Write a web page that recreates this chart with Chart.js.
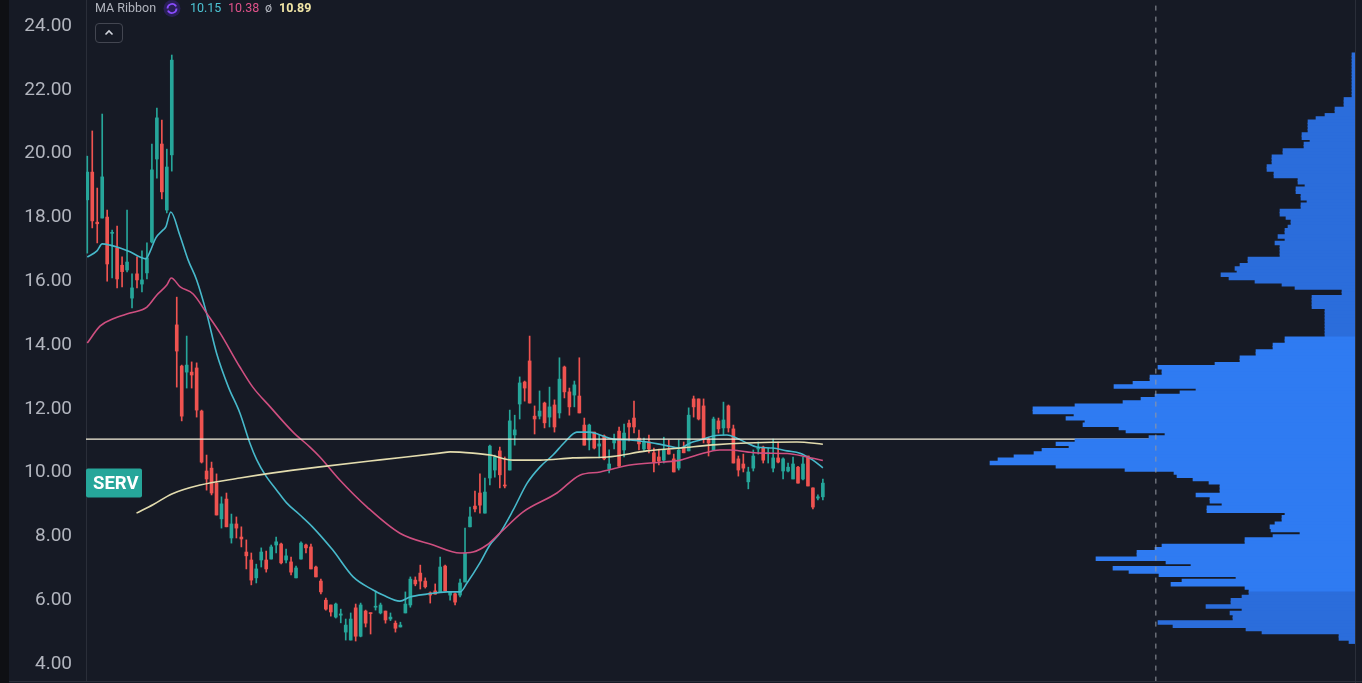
<!DOCTYPE html>
<html>
<head>
<meta charset="utf-8">
<title>SERV</title>
<script src="https://cdn.jsdelivr.net/npm/chart.js@4.4.1/dist/chart.umd.min.js"></script>
<style>
  html, body { margin:0; padding:0; background:#161a25; overflow:hidden; }
  #wrap { position:relative; width:1362px; height:683px; font-family: Roboto, "Noto Sans", sans-serif; }
  #c { position:absolute; left:0; top:0; }
  #strip { position:absolute; left:0; top:0; width:9px; height:683px; background:#0f1014; }
  #bottomLine { position:absolute; left:9px; top:681px; width:1353px; height:1px; background:#2a2e39; }
  #rightLine { position:absolute; left:1355px; top:0; width:1px; height:683px; background:#2a2e39; }
  .lg { position:absolute; top:0; font-size:12.5px; line-height:16px; white-space:nowrap; }
  #btn { position:absolute; left:95px; top:23px; width:26px; height:18px; border:1px solid #434651; border-radius:4px; box-sizing:content-box; }
</style>
</head>
<body>
<div id="wrap">
  <canvas id="c" width="1362" height="683"></canvas>
  <div id="strip"></div>
  <div id="bottomLine"></div>
  <div id="rightLine"></div>
  <span class="lg" style="left:95px;color:#b2b5be">MA Ribbon</span>
  <svg class="lg" style="left:163px;top:0" width="18" height="17" viewBox="0 0 18 17">
    <circle cx="9" cy="8.5" r="8.5" fill="#2a1f58"/>
    <path d="M4.5 8.5 A4.5 4.5 0 0 1 12.6 5.8" stroke="#8a4dff" stroke-width="1.8" fill="none"/>
    <path d="M13.5 8.5 A4.5 4.5 0 0 1 5.4 11.2" stroke="#8a4dff" stroke-width="1.8" fill="none"/>
    <path d="M11 4.2 L13.6 5 L13 7.6 Z" fill="#8a4dff"/>
    <path d="M7 12.8 L4.4 12 L5 9.4 Z" fill="#8a4dff"/>
  </svg>
  <span class="lg" style="left:190px;color:#4cc3d3">10.15</span>
  <span class="lg" style="left:228px;color:#e0528a">10.38</span>
  <span class="lg" style="left:265px;color:#b2b5be">ø</span>
  <span class="lg" style="left:279px;color:#f2e6a6;font-weight:bold">10.89</span>
  <div id="btn">
    <svg width="26" height="18" viewBox="0 0 26 18"><polyline points="9.5,10.5 13,7 16.5,10.5" stroke="#d1d4dc" stroke-width="1.6" fill="none"/></svg>
  </div>
</div>
<script>
// candles (daily)
const opens = [18.55,19.42,17.85,17.98,18.01,17.5,17.04,16.5,16.35,15.47,16.23,15.91,16.26,17.23,19.83,20.3,18.23,19.96,
  14.63,13.34,13.15,13.15,13.28,11.93,10.05,10.14,9.67,8.55,9.17,7.95,8.39,7.98,7.51,7.26,6.7,7.26,7.26,7.29,7.73,7.76,
  7.26,7.2,6.7,7.29,7.73,7.67,7.04,6.6,6.0,5.85,5.47,5.53,5.0,4.75,5.76,4.87,5.66,5.6,5.78,5.6,
  5.66,5.41,5.28,5.16,5.6,5.85,6.63,6.85,6.6,6.23,6.29,6.26,7.07,6.16,6.2,6.16,6.57,8.3,8.95,9.36,
  8.73,9.83,10.08,10.68,9.6,10.08,11.18,12.15,12.84,13.5,11.77,11.77,12.18,11.74,12.12,11.87,13.31,12.53,12.43,12.4,
  11.49,11.02,11.27,10.83,11.15,10.11,10.93,11.3,10.71,11.55,11.71,11.08,10.74,10.96,10.62,10.49,10.39,10.71,10.43,10.14,
  10.77,10.68,12.31,12.31,12.09,11.05,10.71,11.62,11.4,12.09,11.37,10.43,10.27,9.71,10.14,10.74,10.8,10.59,10.14,10.46,
  10.05,10.05,9.8,10.17,9.8,10.52,9.52,9.2,9.24];
const highs = [19.92,20.71,18.92,21.24,18.23,17.6,17.73,16.76,18.23,16.23,16.76,16.95,17.2,20.3,21.43,21.05,20.14,23.09,
  15.5,13.37,14.28,13.47,13.44,11.96,10.55,10.33,9.96,9.24,9.36,8.7,8.61,8.3,7.89,7.48,7.13,7.64,7.54,7.73,7.98,7.79,
  7.6,7.35,7.07,7.83,7.76,7.76,7.07,6.66,6.07,5.85,5.91,5.72,5.41,5.6,5.88,5.91,5.69,5.6,6.29,5.91,
  5.66,5.6,5.35,5.31,6.26,6.73,6.73,7.1,6.7,6.26,6.51,7.35,7.1,6.26,6.23,6.66,8.26,8.92,9.42,9.96,
  9.83,10.86,10.55,10.8,10.49,11.96,11.8,13.0,12.87,14.28,12.09,12.56,12.21,12.68,12.28,13.6,13.34,12.65,12.87,13.6,
  11.71,11.52,11.27,11.18,11.18,10.71,11.21,11.43,11.52,11.65,12.24,11.33,11.08,11.18,10.77,10.74,11.11,11.02,10.58,11.02,
  10.96,12.03,12.4,12.31,12.31,11.11,11.74,11.71,12.21,12.12,11.49,10.52,10.58,10.17,10.71,10.96,10.83,10.77,11.05,10.96,
  10.46,10.3,10.49,10.2,10.49,10.52,9.52,9.3,9.8];
const lows = [16.88,17.67,17.2,17.98,16.0,16.1,15.79,15.82,16.29,15.16,15.79,15.66,16.07,17.2,19.23,18.58,18.14,19.45,
  12.68,11.62,12.65,12.65,11.74,10.3,9.45,9.3,8.67,8.26,8.3,7.79,7.95,7.67,6.98,6.48,6.54,7.04,6.88,7.29,7.48,7.14,
  7.17,6.79,6.7,7.29,7.48,6.98,6.73,6.2,5.69,5.5,5.44,5.29,4.75,4.75,4.72,4.85,5.16,4.94,5.69,5.57,
  5.28,5.36,5.0,5.16,5.6,5.78,6.45,6.35,6.38,5.91,6.19,6.26,6.29,6.0,5.85,6.1,6.57,8.3,8.77,8.73,
  8.73,9.61,9.86,9.52,9.52,10.08,10.86,11.68,12.24,12.18,11.21,11.68,11.4,11.43,11.27,11.71,12.34,11.8,12.06,11.87,
  10.86,10.71,10.74,10.46,10.4,9.99,10.74,10.17,10.49,10.99,11.24,10.71,10.68,10.62,10.02,10.24,10.3,10.58,10.02,10.08,
  10.62,10.68,11.74,11.65,10.93,10.52,10.71,11.24,11.18,11.27,10.3,9.89,10.02,9.49,10.05,10.58,10.3,10.3,10.02,10.3,
  9.8,10.02,9.8,9.67,9.77,9.58,8.86,9.14,9.14];
const closes = [19.42,17.89,17.8,19.27,16.54,17.52,16.07,16.3,16.6,15.79,16.04,16.04,16.73,19.49,21.12,18.8,19.58,22.93,
  13.81,11.77,13.37,13.06,11.96,10.33,9.8,9.36,8.67,9.02,8.3,8.39,8.26,7.92,7.39,6.63,6.98,7.51,6.98,7.67,7.83,7.17,
  7.39,6.88,7.01,7.79,7.64,6.98,6.73,6.26,5.72,5.63,5.88,5.57,5.22,5.41,4.87,5.85,5.28,5.58,5.81,5.85,
  5.38,5.47,5.12,5.22,5.88,6.66,6.51,6.6,6.42,6.16,6.19,7.04,6.29,6.26,5.94,6.54,7.48,8.61,8.86,8.98,
  9.39,10.83,10.49,9.93,9.58,11.62,11.34,12.81,12.65,12.18,11.68,11.93,11.56,12.06,11.43,12.93,12.53,12.06,12.75,11.87,
  10.86,11.49,10.77,10.9,10.43,10.27,11.02,10.2,11.24,11.43,11.43,10.9,10.96,10.74,10.33,10.36,10.71,10.58,10.02,10.71,
  10.62,11.8,12.06,11.68,11.05,10.93,11.68,11.37,11.65,11.4,10.3,10.08,10.14,10.02,10.52,10.77,10.39,10.62,10.46,10.33,
  10.43,10.17,10.27,9.67,10.27,9.58,8.92,9.24,9.67];

// MA ribbon, [bar index, value]
const maFast = [[0,16.76],[1.95,16.95],[3,17.17],[4.6,17.13],[6.6,17.04],[8.6,16.92],[10.6,16.76],[11.8,16.7],[12.6,16.92],
  [13.8,17.36],[15.2,17.6],[15.8,17.7],[16.8,18.17],[18.6,17.45],[20.3,16.66],[22,16.04],[24,15.0],[26,13.75],[28.4,12.68],
  [30.7,11.87],[32.7,10.93],[34.1,10.4],[35.8,9.93],[38.1,9.45],[40.1,9.05],[42.8,8.67],[45.3,8.3],[49.4,7.57],[53.5,6.73],
  [57.5,6.32],[59.5,6.16],[62.9,5.97],[64.9,6.1],[68.3,6.19],[72.4,6.26],[75,6.26],[76.4,6.54],[79,7.17],[81,7.73],[83,8.1],
  [85.7,8.83],[88.5,9.67],[91.1,10.18],[93.7,10.55],[96.1,10.96],[98.5,11.27],[101.1,11.27],[103.2,11.18],[105.8,11.05],
  [109.2,11.02],[112.6,10.96],[115.8,10.87],[119.3,10.77],[121.3,10.93],[123.3,11.02],[125.9,11.15],[128.7,11.18],
  [130.7,11.08],[132.7,10.93],[134.7,10.8],[137.9,10.77],[140.8,10.68],[143.4,10.61],[146,10.39],[148,10.15]];
const maMid = [[0,14.06],[2.6,14.6],[5.2,14.82],[8.6,15.0],[12,15.19],[14,15.57],[16,15.88],[16.9,16.1],[18.7,15.82],
  [21.3,15.6],[24,15.0],[26.7,14.38],[30.7,13.31],[33.3,12.68],[36.8,12.06],[41.4,11.27],[44.8,10.8],[46.8,10.49],
  [50.8,9.77],[56.3,8.92],[62.9,8.1],[69.6,7.73],[75,7.48],[77.6,7.51],[80.4,7.73],[83,8.1],[87.7,8.77],[94.5,9.36],
  [99.1,9.92],[103.2,10.02],[109.2,10.24],[115.8,10.33],[119.3,10.39],[122.7,10.55],[127.3,10.71],[129.3,10.71],
  [132.7,10.65],[135.9,10.61],[140.8,10.6],[144.8,10.49],[148,10.38]];
const maSlow = [[9.9,8.73],[13.3,9.0],[17,9.33],[22.7,9.61],[30.7,9.83],[37.4,9.99],[46.8,10.18],[58.9,10.4],[70.9,10.61],
  [73,10.65],[77.6,10.61],[81,10.55],[85.7,10.39],[91.1,10.39],[97.7,10.46],[104.6,10.49],[112.6,10.68],[119.3,10.77],
  [125.9,10.87],[132.7,10.93],[142.8,10.96],[148,10.89]];

const levelLine = 11.05;    // horizontal price line
const sessionMark = 215;     // dashed vertical marker (bar index)

// visible-range volume profile: price rows and relative volume
const profilePrices = [23.1,23.0,22.9,22.8,22.7,22.6,22.5,22.4,22.3,22.2,22.1,22.0,21.9,21.8,21.7,21.6,21.5,21.4,21.3,21.2,
  21.1,21.0,20.9,20.8,20.7,20.6,20.5,20.4,20.3,20.2,20.1,20.0,19.9,19.8,19.7,19.6,19.5,19.4,19.3,19.2,
  19.1,19.0,18.9,18.8,18.7,18.6,18.5,18.4,18.3,18.2,18.1,18.0,17.9,17.8,17.7,17.6,17.5,17.4,17.3,17.2,
  17.1,17.0,16.9,16.8,16.7,16.6,16.5,16.4,16.3,16.2,16.1,16.0,15.9,15.8,15.7,15.6,15.5,15.4,15.3,15.2,
  15.1,15.0,14.9,14.8,14.7,14.6,14.5,14.4,14.3,14.2,14.1,14.0,13.9,13.8,13.7,13.6,13.5,13.4,13.3,13.2,
  13.1,13.0,12.9,12.8,12.7,12.6,12.5,12.4,12.3,12.2,12.1,12.0,11.9,11.8,11.7,11.6,11.5,11.4,11.3,11.2,
  11.1,11.0,10.9,10.8,10.7,10.6,10.5,10.4,10.3,10.2,10.1,10.0,9.9,9.8,9.7,9.6,9.5,9.4,9.3,9.2,
  9.1,9.0,8.9,8.8,8.7,8.6,8.5,8.4,8.3,8.2,8.1,8.0,7.9,7.8,7.7,7.6,7.5,7.4,7.3,7.2,
  7.1,7.0,6.9,6.8,6.7,6.6,6.5,6.4,6.3,6.2,6.1,6.0,5.9,5.8,5.7,5.6,5.5,5.4,5.3,5.2,
  5.1,5.0,4.9,4.8,4.7];
const profileVolume = [3,3,3,3,3,3,3,3,3,3,3,3,3,3,11,11,11,20,20,30,
  39,47,47,47,47,53,53,45,51,51,72,72,83,83,83,88,88,81,81,57,
  57,50,59,59,54,54,48,54,54,75,75,69,64,64,67,70,70,77,70,80,
  75,75,75,75,107,107,115,120,118,134,126,100,73,60,13,13,43,43,43,43,
  30,30,30,30,30,30,30,30,30,70,70,82,82,99,99,115,115,140,197,193,
  193,205,205,222,241,159,175,200,214,232,280,322,322,281,289,270,272,236,229,190,
  206,280,299,286,313,321,341,357,365,299,230,181,178,162,146,135,135,135,159,145,
  145,133,148,148,70,73,73,80,85,84,55,82,110,110,193,200,218,218,259,189,
  164,242,226,196,119,173,184,110,106,106,113,124,124,149,113,125,122,122,197,182,
  109,93,16,16,6];

const UP = '#26a69a', DOWN = '#ef5350';
const candleColor = c => closes[c.dataIndex] >= opens[c.dataIndex] ? UP : DOWN;
const idx = opens.map((_, i) => i);

// ticker tag at the last close
const lastTag = {
  id: 'lastTag',
  afterDatasetsDraw(chart) {
    const {ctx, chartArea, scales} = chart;
    const py = scales.y.getPixelForValue(closes[closes.length - 1]);
    ctx.save();
    ctx.fillStyle = UP;
    ctx.beginPath();
    ctx.roundRect(chartArea.left, py - 14.5, 56, 29, 2);
    ctx.fill();
    ctx.fillStyle = '#ffffff';
    ctx.font = 'bold 18.5px Roboto';
    ctx.textBaseline = 'middle';
    ctx.textAlign = 'left';
    ctx.fillText('SERV', chartArea.left + 7, py + 1);
    ctx.restore();
  }
};

const line = (pts, color, order) => ({
  type: 'line', data: pts.map(p => ({x: p[0], y: p[1]})), borderColor: color, borderWidth: 1.6,
  pointRadius: 0, cubicInterpolationMode: 'monotone', order
});

new Chart(document.getElementById('c'), {
  type: 'bar',
  data: {
    datasets: [
      { type: 'line', data: [{x: sessionMark, y: 0}, {x: sessionMark, y: 30}], borderColor: '#9598a1',
        borderWidth: 1, borderDash: [5, 6], pointRadius: 0, order: 0 },
      { type: 'bar', indexAxis: 'y', xAxisID: 'xv', yAxisID: 'y', order: 1, grouped: false, barThickness: 3.8,
        data: profilePrices.map((p, i) => ({y: p, x: profileVolume[i]})),
        backgroundColor: c => (profilePrices[c.dataIndex] > 14.25 || profilePrices[c.dataIndex] < 6.25) ? '#2b6ddb' : '#2f7bf2' },
      { type: 'line', data: [{x: -5, y: levelLine}, {x: 300, y: levelLine}], borderColor: '#f7f2dc',
        borderWidth: 1.2, pointRadius: 0, order: 2 },
      line(maSlow, '#e3dcae', 3),
      line(maMid, '#cf4f80', 3),
      line(maFast, '#47b9cb', 3),
      { type: 'bar', order: 4, grouped: false, barThickness: 3, minBarLength: 1,
        data: idx.map(i => ({x: i, y: [opens[i], closes[i]]})), backgroundColor: candleColor },
      { type: 'bar', order: 5, grouped: false, barThickness: 1, minBarLength: 1,
        data: idx.map(i => ({x: i, y: [lows[i], highs[i]]})), backgroundColor: candleColor }
    ]
  },
  options: {
    responsive: false,
    animation: false,
    layout: { padding: { top: 0, right: 7, bottom: 2, left: 0 } },
    plugins: { legend: { display: false }, tooltip: { enabled: false } },
    scales: {
      x: { type: 'linear', min: -0.26, max: 255.07, display: false, offset: false },
      xv: { type: 'linear', axis: 'x', reverse: true, min: 0, max: 1269, display: false, offset: false },
      y: {
        type: 'linear', min: 3.467, max: 24.815, offset: false, beginAtZero: false,
        afterFit: s => { s.width = 86; s.paddingTop = 0; s.paddingBottom = 0; },
        grid: { display: false, drawTicks: false },
        border: { display: true, color: '#2a2e39' },
        ticks: { stepSize: 2, includeBounds: false, padding: 14, color: '#b2b5be',
          font: { family: 'Roboto', size: 19 }, callback: v => v.toFixed(2) }
      }
    }
  },
  plugins: [lastTag]
});
</script>
</body>
</html>
